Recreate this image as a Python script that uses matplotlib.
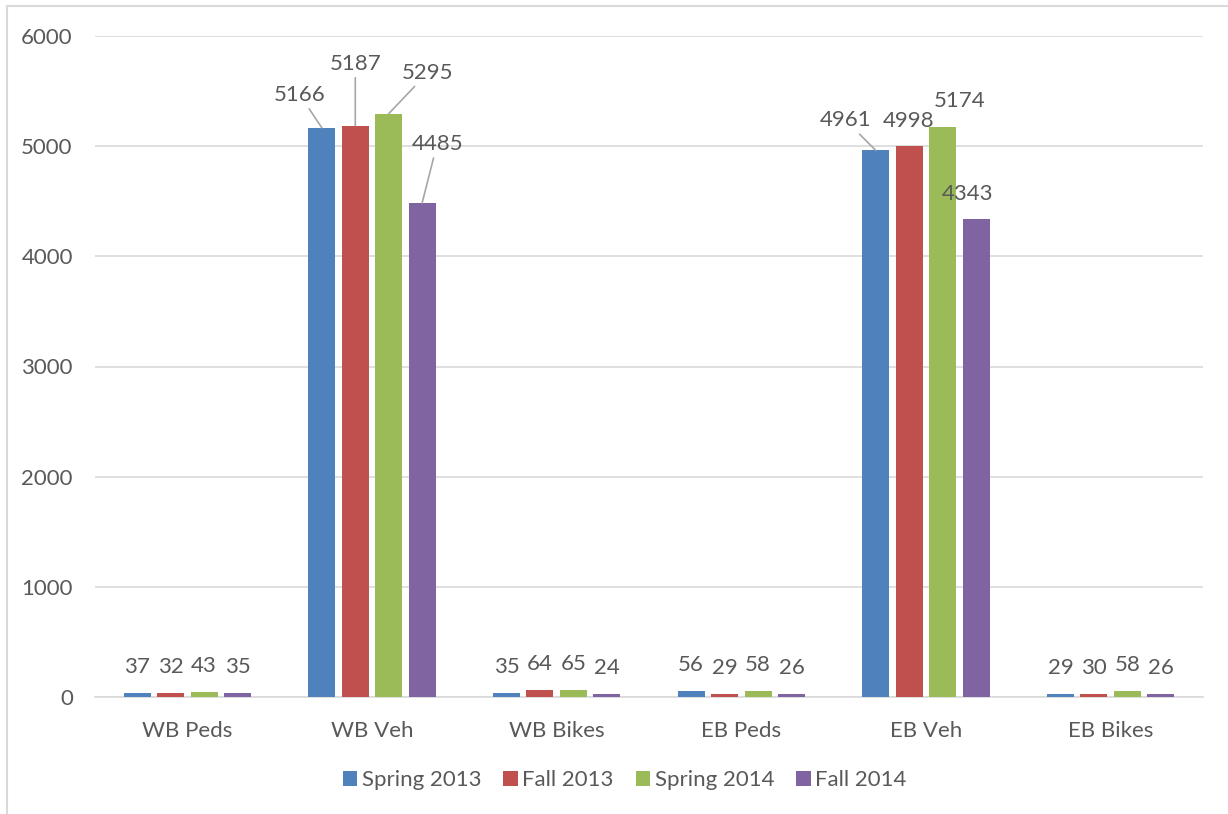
import matplotlib.pyplot as plt
import matplotlib.patches as mpatches
import numpy as np

plt.rcParams["font.family"] = ["Lato", "DejaVu Sans"]

categories = ["WB Peds", "WB Veh", "WB Bikes", "EB Peds", "EB Veh", "EB Bikes"]
series = ["Spring 2013", "Fall 2013", "Spring 2014", "Fall 2014"]
spring_2013 = [37, 5166, 35, 56, 4961, 29]
fall_2013 = [32, 5187, 64, 29, 4998, 30]
spring_2014 = [43, 5295, 65, 58, 5174, 58]
fall_2014 = [35, 4485, 24, 26, 4343, 26]
values = [spring_2013, fall_2013, spring_2014, fall_2014]

colors = ["#4F81BD", "#C0504D", "#9BBB59", "#8064A2"]
text_c = "#595959"
grid_c = "#D9D9D9"
fs = 16

# label offsets in pixels (dx, dy) for labels that were moved, and which get leader lines
moved = {
    (0, 1): (-22, 33, True),
    (1, 1): (0, 62, True),
    (2, 1): (39, 41, True),
    (3, 1): (15, 59, True),
    (0, 4): (-30, 30, True),
    (1, 4): (-1, 25, False),
    (2, 4): (17, 26, False),
    (3, 4): (-9, 25, False),
}

W, H = 1228, 814
fig = plt.figure(figsize=(W / 100, H / 100), dpi=100)
ax = fig.add_axes([95 / W, 117 / H, 1108 / W, 661 / H])

x = np.arange(len(categories))
width = 0.146
pitch = 0.181
for i, (name, vals) in enumerate(zip(series, values)):
    xs = x + (i - 1.5) * pitch
    ax.bar(xs, vals, width, color=colors[i], label=name, zorder=3)
    for j, v in enumerate(vals):
        dx, dy, lead = moved.get((i, j), (0, 26, False))
        kw = {}
        if lead:
            kw["arrowprops"] = dict(arrowstyle="-", color="#A6A6A6", lw=1.2,
                                    shrinkA=1, shrinkB=0)
        ax.annotate(str(v), (xs[j], v), xytext=(dx, dy), textcoords="offset pixels",
                    ha="center", va="center", fontsize=fs, color=text_c, **kw)

ax.set_xlim(-0.5, len(categories) - 0.5)
ax.set_ylim(0, 6000)
ax.set_yticks(np.arange(0, 6001, 1000))
ax.set_xticks(x)
ax.set_xticklabels(categories)
ax.tick_params(axis="both", length=0, labelsize=fs, colors=text_c)
ax.tick_params(axis="x", pad=17)
ax.tick_params(axis="y", pad=16)
ax.yaxis.grid(True, color=grid_c, lw=1.2, zorder=0)
for s in ["top", "right", "left"]:
    ax.spines[s].set_visible(False)
ax.spines["bottom"].set_color(grid_c)
ax.spines["bottom"].set_linewidth(1.2)

ax.legend(loc="center", bbox_to_anchor=(0.478, -83 / 661), ncol=4,
          frameon=False, fontsize=fs, labelcolor=text_c, handlelength=0.65,
          handleheight=0.65, handletextpad=0.2, columnspacing=1.0,
          bbox_transform=ax.transAxes)

# outer chart border (only left/top visible in reference)
fig.patches.append(mpatches.Rectangle((7 / W, -0.1), 2, 1.1 - 6 / H, transform=fig.transFigure,
                                      fill=False, edgecolor=grid_c, lw=1.5))

fig.savefig("out.png", dpi=100)
